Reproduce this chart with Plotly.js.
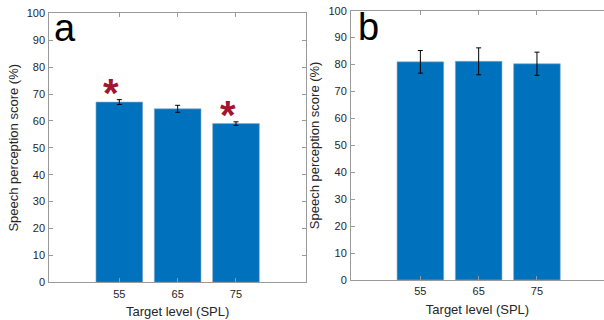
<!DOCTYPE html>
<html><head><meta charset="utf-8">
<script src="https://cdn.plot.ly/plotly-3.0.1.min.js"></script>
<style>html,body{margin:0;padding:0;background:#fff}</style>
</head><body><div id="chart" style="width:604px;height:320px"></div>
<script>
const levels = [55, 65, 75];
const tickLabels = ['55', '65', '75'];
const scoresA = [67.0, 64.5, 59.0];
const errA = [0.9, 1.3, 0.65];
const scoresB = [81.0, 81.2, 80.3];
const errB = [4.2, 5.0, 4.3];
const starLevels = [55, 75];
const starScores = [67.0, 59.0];
const starErr = [0.9, 0.65];

const barColor = '#0072BD';
const axisColor = '#9a9a9a';
const textColor = '#262626';
const font = 'Liberation Sans, Arial, Helvetica, sans-serif';

function barTrace(y, e, xa, ya) {
  return {
    type: 'bar', x: levels, y: y, width: 8, xaxis: xa, yaxis: ya,
    marker: {color: barColor, line: {color: '#8fa8c0', width: 0.6}},
    error_y: {type: 'data', array: e, visible: true, color: '#000', thickness: 1, width: 2.5},
    showlegend: false, hoverinfo: 'skip'
  };
}

function xAxis(domain, range, anchor) {
  return {
    domain: domain, range: range, anchor: anchor,
    tickvals: levels, ticktext: tickLabels,
    ticks: 'inside', ticklen: 4, tickcolor: axisColor,
    showline: true, linecolor: axisColor, linewidth: 1, mirror: 'ticks',
    showgrid: false, zeroline: false, ticklabelstandoff: 1,
    tickfont: {family: font, size: 11, color: textColor},
    title: {text: 'Target level (SPL)', font: {family: font, size: 13, color: textColor}, standoff: 8}
  };
}
function yAxis(domain, anchor, mirror) {
  return {
    domain: domain, range: [0, 100], anchor: anchor,
    tickvals: [0,10,20,30,40,50,60,70,80,90,100],
    ticks: 'inside', ticklen: 4, tickcolor: axisColor,
    showline: true, linecolor: axisColor, linewidth: 1, mirror: mirror,
    showgrid: false, zeroline: false, ticklabelstandoff: 1,
    tickfont: {family: font, size: 11, color: textColor},
    title: {text: 'Speech perception score (%)', font: {family: font, size: 13, color: textColor}, standoff: 5}
  };
}

const data = [barTrace(scoresA, errA, 'x', 'y'), barTrace(scoresB, errB, 'x2', 'y2')];

const annotations = [
  {text: 'a', xref: 'x domain', yref: 'y domain', x: 0.01, y: 1.0, xanchor: 'left', yanchor: 'top', yshift: 8,
   showarrow: false, font: {family: font, size: 38, color: '#000'}},
  {text: 'b', xref: 'x2 domain', yref: 'y2 domain', x: 0.02, y: 1.0, xanchor: 'left', yanchor: 'top', yshift: 7,
   showarrow: false, font: {family: font, size: 38, color: '#000'}}
];
starLevels.forEach((lv, i) => {
  annotations.push({text: '<b>*</b>', xref: 'x', yref: 'y', x: lv - 1.4, y: starScores[i] + starErr[i],
    xanchor: 'center', yanchor: 'bottom', showarrow: false, yshift: -17,
    font: {family: font, size: 40, color: '#A2142F'}});
});

const layout = {
  width: 604, height: 320,
  margin: {l: 0, r: 0, t: 0, b: 0},
  paper_bgcolor: '#fff', plot_bgcolor: '#fff',
  xaxis: xAxis([49.3/604, 306/604], [43, 87], 'y'),
  yaxis: yAxis([(320-282.3)/320, (320-13.3)/320], 'x', 'ticks'),
  xaxis2: xAxis([351/604, 1], [43.1, 86.5], 'y2'),
  yaxis2: yAxis([(320-280)/320, (320-10.7)/320], 'x2', false),
  annotations: annotations,
  bargap: 0.2
};

Plotly.newPlot('chart', data, layout, {staticPlot: true, displayModeBar: false});
</script></body></html>
